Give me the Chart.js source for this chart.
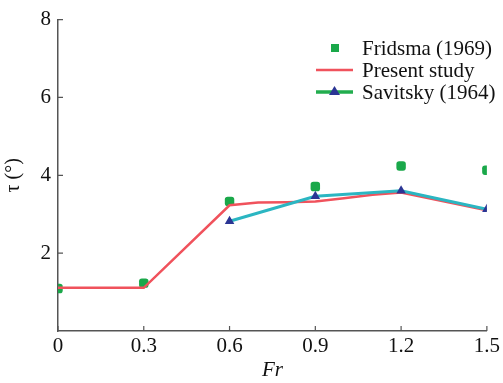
<!DOCTYPE html>
<html>
<head>
<meta charset="utf-8">
<script src="https://cdn.jsdelivr.net/npm/chart.js@4/dist/chart.umd.min.js"></script>
<style>
  html, body { margin: 0; padding: 0; background: #fff; }
  #wrap { width: 503px; height: 383px; }
</style>
</head>
<body>
<div id="wrap"><canvas id="myChart" width="503" height="383"></canvas></div>
<script>
// data
const fridsmaFr = [0, 0.3, 0.6, 0.9, 1.2, 1.5];
const fridsmaTau = [1.09, 1.23, 3.33, 3.71, 4.24, 4.13];

const presentFr = [0, 0.3, 0.6, 0.7, 0.8, 0.9, 1.0, 1.1, 1.2, 1.5];
const presentTau = [1.11, 1.11, 3.23, 3.30, 3.31, 3.33, 3.41, 3.50, 3.56, 3.10];

const savitskyFr = [0.6, 0.9, 1.2, 1.5];
const savitskyTau = [2.82, 3.46, 3.60, 3.13];

const seriesNames = ['Fridsma (1969)', 'Present study', 'Savitsky (1964)'];
const xTicks = [0, 0.3, 0.6, 0.9, 1.2, 1.5];
const yTicks = [2, 4, 6, 8];

const toPoints = (xs, ys) => xs.map((x, i) => ({ x: x, y: ys[i] }));

const serif = '"Liberation Serif", "DejaVu Serif", serif';
const axisColor = '#555';

// small ticks pointing into the plot
const innerTicks = {
  id: 'innerTicks',
  afterDatasetsDraw(chart) {
    const ctx = chart.ctx;
    const { x, y } = chart.scales;
    ctx.save();
    ctx.strokeStyle = axisColor;
    ctx.lineWidth = 1.2;
    ctx.beginPath();
    xTicks.forEach(v => {
      const px = x.getPixelForValue(v);
      ctx.moveTo(px, y.bottom);
      ctx.lineTo(px, y.bottom - 5);
    });
    yTicks.forEach(v => {
      const py = y.getPixelForValue(v);
      ctx.moveTo(x.left, py);
      ctx.lineTo(x.left + 5, py);
    });
    ctx.stroke();
    ctx.restore();
  }
};

// legend like the figure: marker / line samples on the left, text on the right
const figLegend = {
  id: 'figLegend',
  afterDraw(chart) {
    const ctx = chart.ctx;
    const x0 = 316, x1 = 353, tx = 362;
    const rows = [48, 70, 92];
    ctx.save();
    ctx.font = '21px ' + serif;
    ctx.fillStyle = '#111';
    ctx.textBaseline = 'middle';
    seriesNames.forEach((name, i) => ctx.fillText(name, tx, rows[i] + 1));

    // Fridsma square
    ctx.fillStyle = '#1aa84a';
    ctx.fillRect(331, rows[0] - 4, 8, 8);

    // present study line
    ctx.strokeStyle = '#f0525c';
    ctx.lineWidth = 2.5;
    ctx.beginPath();
    ctx.moveTo(x0, rows[1]);
    ctx.lineTo(x1, rows[1]);
    ctx.stroke();

    // Savitsky line + triangle
    ctx.strokeStyle = '#22ad4e';
    ctx.lineWidth = 3.5;
    ctx.beginPath();
    ctx.moveTo(x0, rows[2]);
    ctx.lineTo(x1, rows[2]);
    ctx.stroke();
    ctx.fillStyle = '#2b3594';
    ctx.beginPath();
    ctx.moveTo(334.5, rows[2] - 6);
    ctx.lineTo(340, rows[2] + 3);
    ctx.lineTo(329, rows[2] + 3);
    ctx.closePath();
    ctx.fill();
    ctx.restore();
  }
};

const elem = document.getElementById('myChart').getContext('2d');
const chart = new Chart(elem, {
  type: 'scatter',
  data: {
    datasets: [
      {
        label: seriesNames[0],
        data: toPoints(fridsmaFr, fridsmaTau),
        showLine: false,
        pointStyle: 'rectRounded',
        pointRadius: 5.5,
        backgroundColor: '#1aa84a',
        borderColor: '#1aa84a',
        borderWidth: 0,
        order: 3,
        clip: 0
      },
      {
        label: seriesNames[1],
        data: toPoints(presentFr, presentTau),
        showLine: true,
        pointRadius: 0,
        borderColor: '#f0525c',
        borderWidth: 2.5,
        tension: 0,
        order: 2
      },
      {
        label: seriesNames[2],
        data: toPoints(savitskyFr, savitskyTau),
        showLine: true,
        pointStyle: 'triangle',
        pointRadius: 5.5,
        pointBackgroundColor: '#2b3594',
        pointBorderColor: '#2b3594',
        pointBorderWidth: 0,
        borderColor: '#2bb6c2',
        borderWidth: 3,
        tension: 0,
        order: 1,
        clip: 0
      }
    ]
  },
  options: {
    responsive: false,
    animation: false,
    layout: { padding: { top: 16, right: 12, left: 0, bottom: 0 } },
    plugins: {
      legend: { display: false },
      tooltip: { enabled: false }
    },
    scales: {
      x: {
        type: 'linear',
        min: 0,
        max: 1.5,
        afterFit: (s) => { s.height = 52; },
        afterBuildTicks: (s) => { s.ticks = xTicks.map(v => ({ value: v })); },
        ticks: {
          color: '#111',
          font: { family: serif, size: 21 },
          padding: 3,
          maxRotation: 0,
          callback: (v) => String(v)
        },
        grid: { display: true, drawOnChartArea: false, drawTicks: false },
        border: { color: axisColor, width: 1.5 },
        title: {
          display: true,
          text: 'Fr',
          color: '#111',
          font: { family: serif, size: 21, style: 'italic' },
          padding: { top: 0, bottom: 0 }
        }
      },
      y: {
        min: 0,
        max: 8,
        afterFit: (s) => { s.width = 58; },
        afterBuildTicks: (s) => { s.ticks = yTicks.map(v => ({ value: v })); },
        ticks: {
          color: '#111',
          font: { family: serif, size: 21 },
          padding: 7
        },
        grid: { display: true, drawOnChartArea: false, drawTicks: false },
        border: { color: axisColor, width: 1.5 },
        title: {
          display: true,
          text: 'τ (°)',
          color: '#111',
          font: { family: serif, size: 20 },
          padding: { top: 2, bottom: 0 }
        }
      }
    }
  },
  plugins: [innerTicks, figLegend]
});
</script>
</body>
</html>
